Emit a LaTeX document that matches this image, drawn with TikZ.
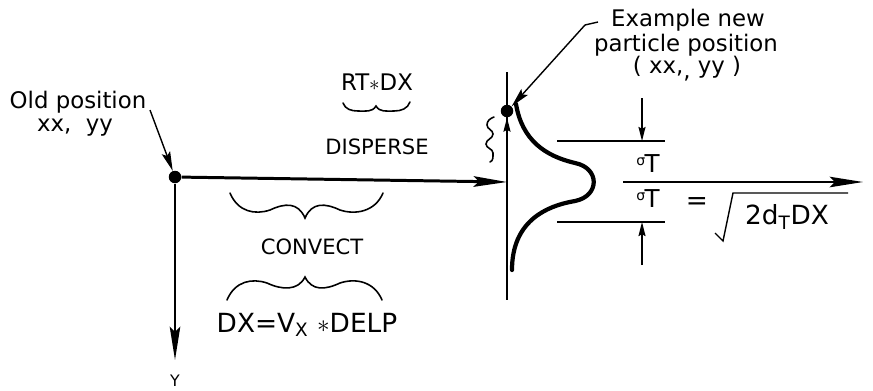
\documentclass[tikz,border=0pt]{standalone}
\usepackage{fontspec}
\setmainfont{DejaVu Sans}
\usetikzlibrary{arrows.meta}

\begin{document}
\begin{tikzpicture}[x=0.02cm,y=-0.02cm]
  \tikzset{AxisStyle/.style = {line width=1.7pt},
           ThinStyle/.style = {line width=0.8pt},
           WaveStyle/.style = {line width=0.9pt, line cap=round},
           CurveStyle/.style = {line width=2.4pt, line cap=round},
           DotStyle/.style = {circle, fill=black, minimum size=0.25cm, inner sep=0pt},
           BigTip/.style = {-{Stealth[length=19pt,width=6pt,inset=3pt]}},
           MidTip/.style = {-{Stealth[length=11pt,width=5pt,inset=2pt]}},
           SmallTip/.style = {-{Stealth[length=8pt,width=4pt,inset=1pt]}},
           LabelStyle/.style = {inner sep=0pt, font=\fontsize{12}{14}\selectfont}}
  \useasboundingbox (0,0) rectangle (873,390);
  \clip (0,0) rectangle (873,390);
  % old and new positions
  \node[DotStyle] (O) at (175,177) {};
  \node[DotStyle] (N) at (507,111) {};
  \coordinate (Xend) at (507,182);
  \coordinate (Yend) at (175,360);
  \coordinate (Vtop) at (507,72);
  \coordinate (Vbot) at (507,300);
  % labels
  \node[LabelStyle, font=\fontsize{13}{15}\selectfont] (old) at (78,102) {Old position};
  \node[LabelStyle, font=\fontsize{13}{15}\selectfont] (oldxy) at (75,128) {xx,\ \ yy};
  \node[LabelStyle, font=\fontsize{13}{15}\selectfont] (ex1) at (688,20) {Example new};
  \node[LabelStyle, font=\fontsize{13}{15}\selectfont] (ex2) at (686,45) {particle position};
  \node[LabelStyle, font=\fontsize{13}{15}\selectfont] (ex3) at (687,69) {( xx,\raisebox{-3pt}{,} yy )};
  \node[LabelStyle, font=\fontsize{13}{15}\selectfont] (rt) at (377,82) {RT$\ast$DX};
  \node[LabelStyle] (disp) at (377,147) {DISPERSE};
  \node[LabelStyle] (conv) at (312,247) {CONVECT};
  \node[LabelStyle, font=\fontsize{15}{17}\selectfont] (dx) at (307,325) {DX=V\textsubscript{X} $\ast$DELP};
  \node[LabelStyle, anchor=north, font=\fontsize{9}{10}\selectfont] (Y) at (175,375) {Y};
  % axes
  \draw[AxisStyle, BigTip] (O) -- (Xend);
  \draw[line width=1.2pt, BigTip] (O) -- (Yend);
  \draw[ThinStyle] (Vtop) -- (Vbot);
  \draw[ThinStyle, SmallTip] (Xend) -- (N);
  % leaders
  \coordinate (OldA) at (150,110);
  \draw[ThinStyle, MidTip] (OldA) -- (O);
  \coordinate (ExA) at (598,22);
  \coordinate (ExB) at (585,25);
  \draw[ThinStyle, MidTip] (ExA) -- (ExB) -- (N.north east);
  % concentration curve
  \draw[CurveStyle] (516,104) .. controls (522,140) and (545,156) .. (575,163)
        .. controls (600,168) and (600,196) .. (575,201)
        .. controls (545,206) and (512,222) .. (512,270);
  % spread marks
  \coordinate (Ta) at (557,141);
  \coordinate (Tb) at (665,141);
  \coordinate (Ba) at (557,222);
  \coordinate (Bb) at (665,222);
  \draw[ThinStyle] (Ta) -- (Tb);
  \draw[ThinStyle] (Ba) -- (Bb);
  \coordinate (T0) at (642,98);
  \coordinate (T1) at (642,141);
  \coordinate (B0) at (642,265);
  \coordinate (B1) at (642,222);
  \draw[ThinStyle, SmallTip] (T0) -- (T1);
  \draw[ThinStyle, SmallTip] (B0) -- (B1);
  \coordinate (Ra) at (623,182);
  \coordinate (Rb) at (863,182);
  \draw[line width=1.1pt, BigTip] (Ra) -- (Rb);
  \node[LabelStyle, font=\fontsize{14}{16}\selectfont] (s1) at (648,164) {\raisebox{0.55ex}{\fontsize{8}{8}\selectfont σ}\kern-0.5pt T};
  \node[LabelStyle, font=\fontsize{14}{16}\selectfont] (s2) at (648,199) {\raisebox{0.55ex}{\fontsize{8}{8}\selectfont σ}\kern-0.5pt T};
  \node[LabelStyle, font=\fontsize{15}{17}\selectfont] (eq) at (697,204) {=};
  \coordinate (Q1) at (715,233);
  \coordinate (Q2) at (723,241);
  \coordinate (Q3) at (733,193);
  \coordinate (Q4) at (848,193);
  \draw[ThinStyle] (Q1) -- (Q2) -- (Q3) -- (Q4);
  \node[LabelStyle, font=\fontsize{15}{17}\selectfont] (root) at (787,217) {2d\textsubscript{T}DX};
  % wavy braces
  \draw[WaveStyle] (343,103) to[out=-70,in=180] (358,111) to[out=0,in=-120] (376,106)
        to[out=-60,in=180] (394,111) to[out=0,in=-110] (410,102);
  \draw[WaveStyle] (230,193) .. controls (238,212) and (255,215) .. (270,210)
        .. controls (285,203) and (298,202) .. (305,218)
        .. controls (312,202) and (325,203) .. (340,210)
        .. controls (355,215) and (375,212) .. (383,193);
  \draw[WaveStyle] (227,300) .. controls (235,281) and (252,278) .. (267,283)
        .. controls (282,290) and (298,291) .. (305,277)
        .. controls (312,291) and (325,290) .. (340,283)
        .. controls (355,278) and (374,281) .. (382,300);
  \draw[WaveStyle] (494,117) to[out=200,in=90] (487,125) to[out=-90,in=90] (493,134)
        to[out=-90,in=90] (486,144) to[out=-90,in=90] (493,153) to[out=-90,in=20] (490,162);
\end{tikzpicture}
\end{document}
